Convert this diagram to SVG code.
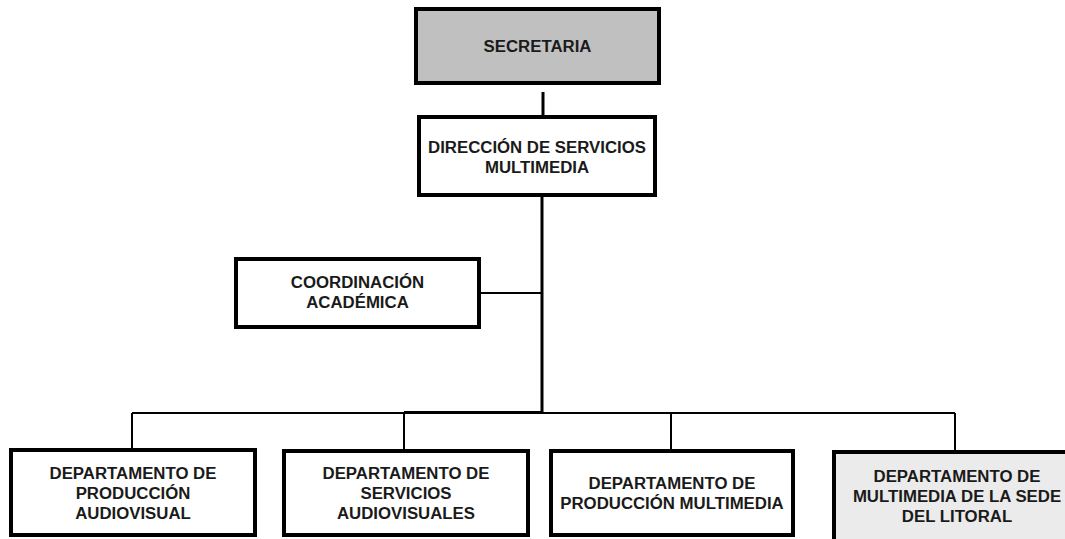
<svg xmlns="http://www.w3.org/2000/svg" width="1065" height="539" viewBox="0 0 1065 539">
<style>
.box{fill:#ffffff;stroke:#000;stroke-width:4}
.t{font-family:"Liberation Sans",Arial,sans-serif;font-weight:bold;font-size:16.8px;fill:#1a1a1a;text-anchor:middle}
.ln{stroke:#000;stroke-width:2;fill:none}
.lk{stroke:#000;stroke-width:3;fill:none}
</style>
<rect width="1065" height="539" fill="#fff"/>
<g id="connectors">
<line class="lk" x1="543" y1="92" x2="543" y2="116"/>
<line class="lk" x1="542" y1="196" x2="542" y2="414"/>
<line class="ln" x1="481" y1="293" x2="542" y2="293"/>
<line class="ln" x1="132" y1="413" x2="955" y2="413"/>
<line class="lk" x1="404" y1="412.5" x2="542" y2="412.5"/>
<line class="ln" x1="132" y1="413" x2="132" y2="449"/>
<line class="ln" x1="404" y1="413" x2="404" y2="449"/>
<line class="ln" x1="671" y1="413" x2="671" y2="449"/>
<line class="ln" x1="955" y1="413" x2="955" y2="451"/>
</g>
<g id="secretaria">
<rect class="box" x="416" y="9" width="243" height="74" style="fill:#c0c0c0"/>
<text class="t" x="537.5" y="52">SECRETARIA</text>
</g>
<g id="direccion">
<rect class="box" x="419" y="117" width="236" height="78"/>
<text class="t" x="537" y="153">DIRECCIÓN DE SERVICIOS</text>
<text class="t" x="537" y="173">MULTIMEDIA</text>
</g>
<g id="coordinacion">
<rect class="box" x="236" y="259" width="243" height="68"/>
<text class="t" x="357.5" y="288">COORDINACIÓN</text>
<text class="t" x="357.5" y="308">ACADÉMICA</text>
</g>
<g id="dep-produccion-audiovisual">
<rect class="box" x="11" y="450" width="244" height="85"/>
<text class="t" x="133" y="479">DEPARTAMENTO DE</text>
<text class="t" x="133" y="499">PRODUCCIÓN</text>
<text class="t" x="133" y="519">AUDIOVISUAL</text>
</g>
<g id="dep-servicios-audiovisuales">
<rect class="box" x="284" y="451" width="244" height="84"/>
<text class="t" x="406" y="479">DEPARTAMENTO DE</text>
<text class="t" x="406" y="499">SERVICIOS</text>
<text class="t" x="406" y="519">AUDIOVISUALES</text>
</g>
<g id="dep-produccion-multimedia">
<rect class="box" x="551" y="451" width="242" height="84"/>
<text class="t" x="672" y="489">DEPARTAMENTO DE</text>
<text class="t" x="672" y="509">PRODUCCIÓN MULTIMEDIA</text>
</g>
<g id="dep-sede-litoral">
<rect class="box" x="834" y="452" width="240" height="100" style="fill:#ebebeb"/>
<text class="t" x="957" y="482">DEPARTAMENTO DE</text>
<text class="t" x="957" y="502">MULTIMEDIA DE LA SEDE</text>
<text class="t" x="957" y="522">DEL LITORAL</text>
</g>
</svg>
